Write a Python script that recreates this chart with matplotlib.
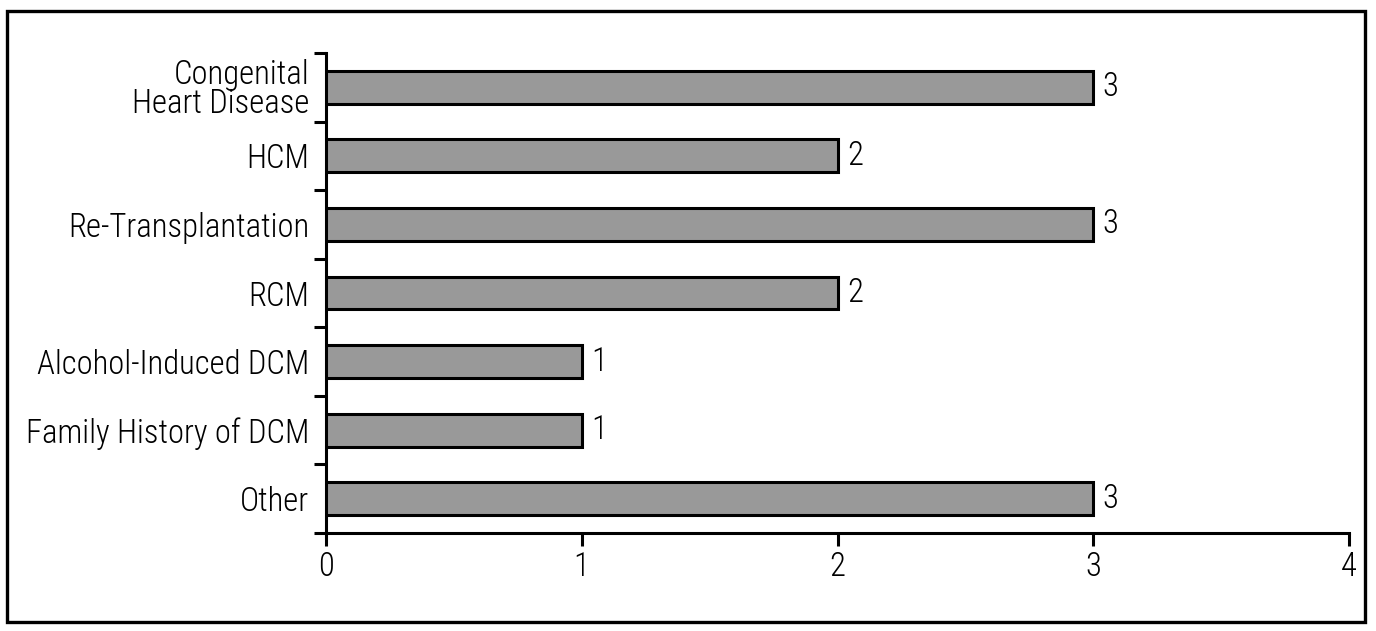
import matplotlib
matplotlib.use("Agg")
import matplotlib.pyplot as plt
from matplotlib.patches import Rectangle
import numpy as np

categories = ["Congenital\nHeart Disease", "HCM", "Re-Transplantation", "RCM",
              "Alcohol-Induced DCM", "Family History of DCM", "Other"]
values = [3, 2, 3, 2, 1, 1, 3]
xticks = [0, 1, 2, 3, 4]

plt.rcParams['font.family'] = ['Roboto Condensed', 'DejaVu Sans']
plt.rcParams['font.weight'] = 300
FS = 23.5

fig = plt.figure(figsize=(13.76, 6.31), dpi=100)
fig.patches.append(Rectangle((7/1376, 1-622/631), (1365-7)/1376, (622-11)/631,
                             transform=fig.transFigure, fill=False,
                             edgecolor='black', linewidth=2.4, zorder=0))

ax = fig.add_axes([326/1376, 1-533/631, (1349-326)/1376, (533-53)/631])
y = np.arange(len(categories))
ax.barh(y, values, height=0.48, color='#999999', edgecolor='black', linewidth=2.2, zorder=3)
ax.set_ylim(len(categories)-0.5, -0.5)
ax.set_xlim(0, 4)

for yi, v in zip(y, values):
    ax.text(v + 0.037, yi, str(v), va='center', ha='left', fontsize=FS, weight=300)

ax.set_xticks(xticks)
ax.set_xticklabels([str(t) for t in xticks], fontsize=FS, weight=300)
ax.set_yticks(y)
ax.set_yticklabels(categories, fontsize=FS, weight=300, linespacing=0.9)
ax.set_yticks(np.arange(len(categories)+1) - 0.5, minor=True)
ax.tick_params(axis='y', which='major', length=0, pad=12)
ax.tick_params(axis='y', which='minor', length=9, width=2.2, direction='out')
ax.tick_params(axis='x', which='major', length=9, width=2.2, direction='out', pad=4)

for s in ['top', 'right']:
    ax.spines[s].set_visible(False)
for s in ['left', 'bottom']:
    ax.spines[s].set_linewidth(2.2)

fig.savefig("out.png", dpi=100)
